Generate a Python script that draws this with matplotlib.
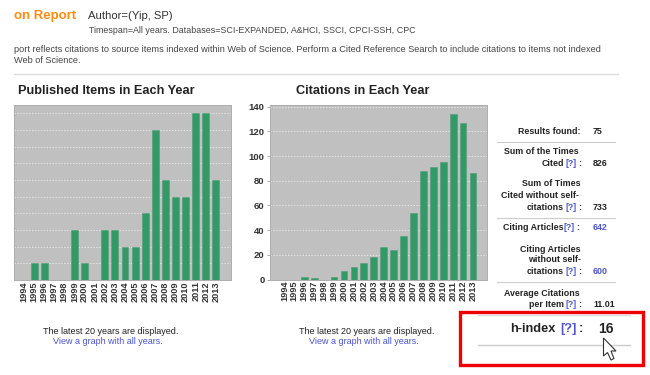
import matplotlib
matplotlib.use("Agg")
import matplotlib.pyplot as plt
from matplotlib.patches import Rectangle, Polygon

plt.rcParams['font.family'] = ['Liberation Sans', 'DejaVu Sans']

years = list(range(1994, 2014))
published = [0, 1, 1, 0, 0, 3, 1, 0, 3, 3, 2, 2, 4, 9, 6, 5, 5, 10, 10, 6]
citations = [0, 0, 2, 1, 0, 2, 7, 10, 13, 18, 26, 24, 35, 54, 88, 91, 95, 134, 127, 86]
citation_ticks = [0, 20, 40, 60, 80, 100, 120, 140]

W, H = 650, 375
fig = plt.figure(figsize=(W / 100, H / 100), dpi=100, facecolor='white')

def axes_px(x0, y0, x1, y1):
    return fig.add_axes([x0 / W, 1 - y1 / H, (x1 - x0) / W, (y1 - y0) / H])

GREY, GREEN, DARK, BLUE, ORANGE = '#c0c0c0', '#339966', '#222222', '#4a55cc', '#ff8c14'

def bar_panel(box, values, ymax, grid, xlim, ticks=None):
    ax = axes_px(*box)
    ax.set_facecolor(GREY)
    ax.set_axisbelow(True)
    ax.bar(years, values, width=0.68, color=GREEN, edgecolor='#4d9e78', linewidth=0.4)
    ax.set_xlim(*xlim)
    ax.set_ylim(0, ymax)
    ax.set_yticks(grid)
    ax.grid(axis='y', color='#e4e4e4', linestyle=(0, (1.5, 1.5)), linewidth=0.7)
    ax.set_xticks(years)
    ax.set_xticklabels(years, rotation=90, fontsize=6.6, color='#333333', fontweight='bold')
    ax.tick_params(axis='x', length=0, pad=1)
    if ticks:
        ax.set_yticklabels(ticks, fontsize=6.8, color='#333333', fontweight='bold')
        ax.tick_params(axis='y', length=2, width=0.5, pad=2, color='#888888')
    else:
        ax.tick_params(axis='y', length=0, labelleft=False)
    for side in ('top', 'right', 'bottom', 'left'):
        ax.spines[side].set_color('#adadad')
        ax.spines[side].set_linewidth(0.7)
    return ax

# px per year: left 10.1 from x=24 ; right 9.92 from x=284.5
bar_panel((14, 105, 231, 280), published, 10.5, list(range(1, 11)),
          (1994 - (24 - 14) / 10.1, 1994 + (231 - 24) / 10.1))
bar_panel((270, 105, 487, 279.5), citations, 140 * 174.5 / 172.8, citation_ticks,
          (1994 - (284.5 - 270) / 9.92, 1994 + (487 - 284.5) / 9.92), citation_ticks)

# Overlay in pixel coordinates for the page furniture
ov = fig.add_axes([0, 0, 1, 1], zorder=5)
ov.set_xlim(0, W)
ov.set_ylim(H, 0)
ov.axis('off')

def t(x, y, s, size=7, color=DARK, ha='left', weight='normal'):
    ov.text(x, y, s, fontsize=size, color=color, ha=ha, va='center', fontweight=weight)

t(14, 16, 'on Report', 9.5, ORANGE, weight='bold')
t(88, 16, 'Author=(Yip, SP)', 8.1, '#333333')
t(89, 30.5, 'Timespan=All years. Databases=SCI-EXPANDED, A&HCI, SSCI, CPCI-SSH, CPC', 6.4, '#444444')
t(14, 49, 'port reflects citations to source items indexed within Web of Science. Perform a Cited Reference Search to include citations to items not indexed', 6.55, '#444444')
t(14, 60.5, 'Web of Science.', 6.55, '#444444')
ov.plot([14, 618], [73.5, 73.5], color='#dddddd', lw=1)

t(18, 91.5, 'Published Items in Each Year', 9.2, DARK, weight='bold')
t(296, 91.5, 'Citations in Each Year', 9.2, DARK, weight='bold')

t(111, 331, 'The latest 20 years are displayed.', 6.5, DARK, 'center')
t(108, 342, 'View a graph with all years.', 6.5, BLUE, 'center')
t(366.5, 331, 'The latest 20 years are displayed.', 6.5, DARK, 'center')
t(364, 342, 'View a graph with all years.', 6.5, BLUE, 'center')

R = 581
V = 593
SZ = 6.4

def row(y, label, value='', qmark=False, vcolor=DARK, right=R):
    if qmark:
        t(R, y, ':', SZ, DARK, 'right', 'bold')
        t(577, y, '[?]', SZ, BLUE, 'right', 'bold')
        t(564, y, label, SZ, DARK, 'right', 'bold')
    else:
        t(right, y, label, SZ, DARK, 'right', 'bold')
    if value:
        t(V, y, value, SZ, vcolor, 'left', 'bold')

row(131, 'Results found:', '75')
row(151.5, 'Sum of the Times', right=579)
row(163.5, 'Cited', '826', True)
row(183.5, 'Sum of Times')
row(195, 'Cited without self-', right=579)
row(207, 'citations', '733', True)
t(563.5, 228, 'Citing Articles', SZ, DARK, 'right', 'bold')
t(575, 228, '[?]', SZ, BLUE, 'right', 'bold')
t(579, 228, ':', SZ, DARK, 'right', 'bold')
t(V, 228, '642', SZ, BLUE, 'left', 'bold')
row(249, 'Citing Articles')
row(260, 'without self-')
row(272, 'citations', '600', True, BLUE)
row(293, 'Average Citations', right=580)
row(304.5, 'per Item', '11.01', True)

for y in (141.7, 217.7, 282):
    ov.plot([497, 615], [y, y], color='#cccccc', lw=0.8)
ov.plot([478, 630], [344.5, 344.5], color='#cccccc', lw=1)
ov.plot([478, 630], [314.5, 314.5], color='#dddddd', lw=0.8)

t(510, 329, 'h-index', 9.2, DARK, 'left', 'bold')
t(560, 329, '[?]', 9.2, BLUE, 'left', 'bold')
t(579, 329, ':', 9.2, DARK, 'left', 'bold')
t(598, 329, '16', 10, DARK, 'left', 'bold')

ov.add_patch(Rectangle((460.2, 312), 183, 53, fill=False, edgecolor='#ee0000', linewidth=2.4))

cursor = [(603.5, 338), (603.5, 356), (607.5, 352.5), (611, 360), (614, 358.5), (611, 351), (616, 351)]
ov.add_patch(Polygon(cursor, closed=True, facecolor='white', edgecolor='#333333', linewidth=0.8, zorder=6))

fig.savefig('out.png', dpi=100, facecolor='white')
